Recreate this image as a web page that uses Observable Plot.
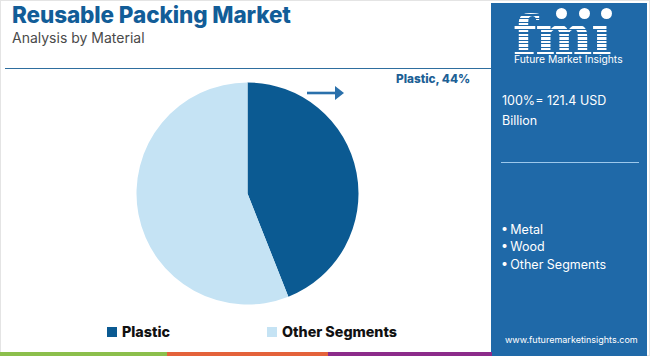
<!DOCTYPE html>
<html><head><meta charset="utf-8">
<script src="https://cdn.jsdelivr.net/npm/d3@7"></script>
<script src="https://cdn.jsdelivr.net/npm/@observablehq/plot@0.6"></script>
<style>
body{margin:0;background:#fff;}
#wrap{position:relative;width:650px;height:356px;overflow:hidden;background:#fff;font-family:Inter,"Open Sans",sans-serif;}
.abs{position:absolute;white-space:nowrap;line-height:1;}
#title{left:12px;top:5.3px;font-size:22.5px;line-height:0.9;font-weight:800;color:#125d98;letter-spacing:-0.1px;}
#subtitle{left:12px;top:31.6px;font-size:14px;line-height:0.8;color:#4a4a4a;}
#rule{left:5px;top:67.5px;width:486px;height:1.5px;background:#2e6e9f;}
#panel{left:491px;top:3px;width:156px;height:353px;background:#1f69a8;}
#plot{position:absolute;left:0;top:0;}
.ptext{color:#fff;}
#total1{left:502px;top:95px;font-size:12.5px;}
#total2{left:502px;top:115px;font-size:12.5px;}
#sep{left:501px;top:161.5px;width:138px;height:1.5px;background:#9cc8ec;}
.bullet{left:501px;font-size:12.5px;}
#site{left:505px;top:335px;font-size:9px;}
.leg{position:absolute;top:327px;height:10px;display:flex;align-items:center;}
.sw{width:10px;height:10px;margin-right:5px;}
.lt{font-size:14.3px;font-weight:800;color:#111;line-height:1;}
#plabel{left:396px;top:74px;font-size:11.8px;font-weight:800;color:#1d5f95;}
.bar{position:absolute;top:352px;height:4px;}
#logo{left:513px;top:17.4px;font-family:"DejaVu Serif",serif;font-weight:bold;font-size:54px;line-height:0.7;letter-spacing:-1px;color:#fff;}
#stripes{position:absolute;left:510px;top:12px;width:115px;height:44px;pointer-events:none;
 background:repeating-linear-gradient(to bottom,rgba(31,105,168,0) 0 2.4px,#1f69a8 2.4px 3.6px);}
#logosub{left:514px;top:55px;font-size:10.3px;line-height:0.8;color:#fff;}
.glob{position:absolute;width:11px;height:11px;border-radius:50%;background:#fff;top:8px;}
#edge{position:absolute;left:0;top:0;width:648px;height:354px;border:1px solid #e4e4e4;pointer-events:none;}
</style></head>
<body>
<div id="wrap">
  <div id="edge"></div>
  <div id="panel" class="abs"></div>
  <div id="title" class="abs">Reusable Packing Market</div>
  <div id="subtitle" class="abs">Analysis by Material</div>
  <div id="rule" class="abs"></div>
  <div id="logo" class="abs">fmı</div>
  <div id="stripes"></div>
  <div class="glob" style="left:556px"></div>
  <div class="glob" style="left:579px"></div>
  <div class="glob" style="left:601px"></div>
  <div id="logosub" class="abs">Future Market Insights</div>
  <div id="total1" class="abs ptext"></div>
  <div id="total2" class="abs ptext"></div>
  <div id="sep" class="abs"></div>
  <div id="bullets"></div>
  <div id="site" class="abs ptext">www.futuremarketinsights.com</div>
  <div id="plabel" class="abs"></div>
  <div id="legend"></div>
  <div id="bars"></div>
</div>
<script>
// ---- data ----
const categories = ["Plastic", "Other Segments"];
const shares = [44, 56];
const colors = ["#0b5a92", "#c5e3f4"];
const panelSegments = ["Metal", "Wood", "Other Segments"];
const totalValue = "121.4";
const totalUnit = "USD";
const totalScale = "Billion";
const highlightIndex = 0;

// ---- layout constants ----
const PIE = {cx: 247.5, cy: 193.5, r: 111};
const ARROW = {x1: 307, x2: 344, y: 93, head: 9, half: 7};
const LEGEND_X = [107, 267];
const BULLET_TOPS = [223.5, 241, 258.5];
const BARS = [{x: 0, w: 167, c: "#8cbf4c"}, {x: 167, w: 161, c: "#e4623a"}, {x: 328, w: 164, c: "#8c2b8a"}];

document.getElementById("total1").textContent = `100%= ${totalValue} ${totalUnit}`;
document.getElementById("total2").textContent = totalScale;
document.getElementById("plabel").textContent = `${categories[highlightIndex]}, ${shares[highlightIndex]}%`;

const bl = document.getElementById("bullets");
panelSegments.forEach((s, i) => {
  const d = document.createElement("div");
  d.className = "abs ptext bullet";
  d.style.top = BULLET_TOPS[i] + "px";
  d.textContent = "\u2022\u2009" + s;
  bl.appendChild(d);
});

const lg = document.getElementById("legend");
categories.forEach((c, i) => {
  const d = document.createElement("div");
  d.className = "leg";
  d.style.left = LEGEND_X[i] + "px";
  d.innerHTML = `<div class="sw" style="background:${colors[i]}"></div><div class="lt"></div>`;
  d.querySelector(".lt").textContent = c;
  lg.appendChild(d);
});

const bw = document.getElementById("bars");
BARS.forEach(b => {
  const d = document.createElement("div");
  d.className = "bar";
  d.style.left = b.x + "px"; d.style.width = b.w + "px"; d.style.background = b.c;
  bw.appendChild(d);
});

// ---- chart ----
const pieData = categories.map((c, i) => ({category: c, value: shares[i]}));
const arcs = d3.pie().sort(null).value(d => d.value)(pieData);

const plot = Plot.plot({
  width: 650, height: 356, margin: 0,
  style: {background: "transparent", overflow: "visible"},
  x: {domain: [0, 650], range: [0, 650], axis: null},
  y: {domain: [0, 356], range: [0, 356], axis: null},
  color: {domain: categories, range: colors},
  marks: [
    (index, scales) => {
      const sx = scales.x, sy = scales.y;
      const col = scales.color || d3.scaleOrdinal(categories, colors);
      const cx = sx(PIE.cx), cy = sy(PIE.cy), r = sx(PIE.cx + PIE.r) - cx;
      const g = d3.create("svg:g");
      const pg = g.append("g").attr("transform", `translate(${cx},${cy})`);
      const arc = d3.arc().innerRadius(0).outerRadius(r);
      pg.selectAll("path").data(arcs).join("path")
        .attr("d", arc).attr("fill", d => col(d.data.category));
      // pointer arrow
      const ax1 = sx(ARROW.x1), ax2 = sx(ARROW.x2), ay = sy(ARROW.y);
      g.append("line").attr("x1", ax1).attr("x2", ax2 - ARROW.head + 1).attr("y1", ay).attr("y2", ay)
        .attr("stroke", "#2a70ab").attr("stroke-width", 2.6);
      g.append("path")
        .attr("d", `M${ax2 - ARROW.head},${ay - ARROW.half}L${ax2},${ay}L${ax2 - ARROW.head},${ay + ARROW.half}Z`)
        .attr("fill", "#2a70ab");
      return g.node();
    }
  ]
});
plot.id = "plot";
document.getElementById("wrap").insertBefore(plot, document.getElementById("plabel"));
</script>
</body></html>
